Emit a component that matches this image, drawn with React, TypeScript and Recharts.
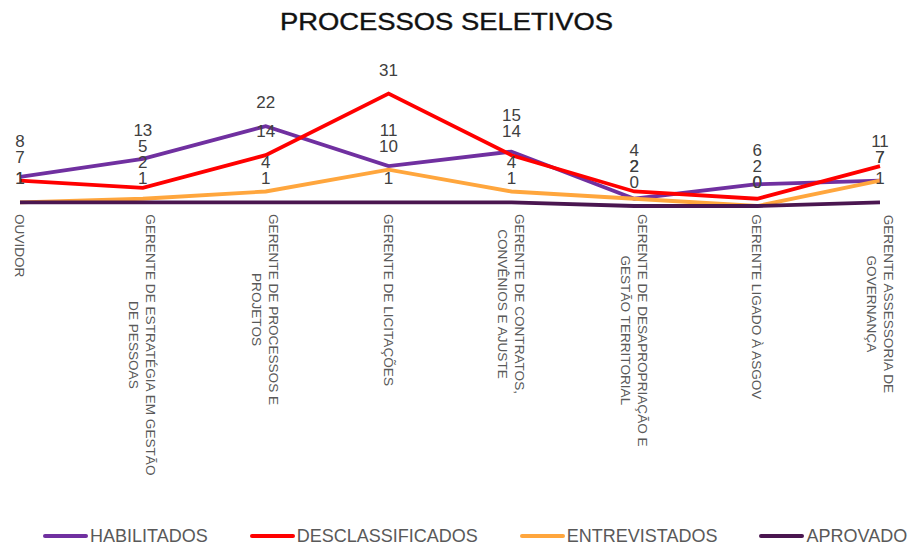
import React from 'react';
import { LineChart, Line, XAxis, YAxis, Legend, LabelList } from 'recharts';

const CATEGORIES = [
    'OUVIDOR',
    'GERENTE DE ESTRATÉGIA EM GESTÃO\nDE PESSOAS',
    'GERENTE DE PROCESSOS E\nPROJETOS',
    'GERENTE DE LICITAÇÕES',
    'GERENTE DE CONTRATOS,\nCONVÊNIOS E AJUSTE',
    'GERENTE DE DESAPROPRIAÇÃO E\nGESTÃO TERRITORIAL',
    'GERENTE LIGADO À ASGOV',
    'GERENTE ASSESSORIA DE\nGOVERNANÇA',
];

const HABILITADOS = [8, 13, 22, 11, 15, 2, 6, 7];
const DESCLASSIFICADOS = [7, 5, 14, 31, 14, 4, 2, 11];
const ENTREVISTADOS = [1, 2, 4, 10, 4, 2, 0, 7];
const APROVADO = [1, 1, 1, 1, 1, 0, 0, 1];

const SERIES = [
    { key: 'HABILITADOS', values: HABILITADOS, color: '#7030A0' },
    { key: 'DESCLASSIFICADOS', values: DESCLASSIFICADOS, color: '#FF0000' },
    { key: 'ENTREVISTADOS', values: ENTREVISTADOS, color: '#FFA63D' },
    { key: 'APROVADO', values: APROVADO, color: '#4A1650' },
];

const data = CATEGORIES.map((name, i) => {
    const row: Record<string, string | number> = { name };
    SERIES.forEach((s) => { row[s.key] = s.values[i]; });
    return row;
});

const FONT = '"Liberation Sans", Arial, sans-serif';
const TICK_SIZE = 13.6;
const LINE_GAP = 17;

// layout
const W = 911;
const H = 548;
const TOP = 79;
const LEGEND_H = 24;
const XAXIS_H = 318;
const Y_MAX = 35;
const PX_PER_UNIT = (H - TOP - LEGEND_H - XAXIS_H) / Y_MAX;
const LABEL_GAP = 18;
const LABEL_STEP = 16;

const ctx = typeof document !== 'undefined' ? document.createElement('canvas').getContext('2d') : null;
const measure = (s: string) => {
    if (!ctx) return s.length * TICK_SIZE * 0.6;
    ctx.font = `${TICK_SIZE}px ${FONT}`;
    return ctx.measureText(s).width;
};

const VerticalTick = (props: any) => {
    const { x, y, payload } = props;
    const lines = String(payload.value).split('\n');
    const maxW = Math.max(...lines.map(measure));
    return (
        <g transform={`translate(${x},${y})`}>
            <text
                transform="rotate(90)"
                textAnchor="middle"
                dominantBaseline="central"
                fontFamily={FONT}
                fontSize={TICK_SIZE}
                fill="#595959"
            >
                {lines.map((l, i) => (
                    <tspan key={i} x={maxW / 2} y={(i - (lines.length - 1) / 2) * LINE_GAP}>{l}</tspan>
                ))}
            </text>
        </g>
    );
};

// push labels of one category upward when they would collide (bottom-up)
const labelLift = (index: number, seriesIdx: number) => {
    const vals = SERIES.map((s, j) => ({ j, v: s.values[index] }));
    vals.sort((a, b) => a.v - b.v || b.j - a.j);
    let prevY = Infinity;
    let prevV = -1;
    const lifted: Record<number, number> = {};
    vals.forEach(({ j, v }) => {
        let y = -v * PX_PER_UNIT - LABEL_GAP;
        if (v === prevV) y = prevY;
        else if (y > prevY - LABEL_STEP) y = prevY - LABEL_STEP;
        lifted[j] = y + v * PX_PER_UNIT; // relative to the point
        prevY = y;
        prevV = v;
    });
    return lifted[seriesIdx];
};

const makeLabel = (seriesIdx: number) => (props: any) => {
    const { viewBox, value, index } = props;
    const px = viewBox?.x ?? props.x;
    const py = viewBox?.y ?? props.y;
    const dy = labelLift(index, seriesIdx);
    return (
        <text x={px} y={py + dy} textAnchor="middle" fontFamily={FONT} fontSize={17} fill="#404040">
            {value}
        </text>
    );
};

const renderLegend = () => (
    <div style={{ display: 'flex', alignItems: 'center', paddingLeft: 43, height: LEGEND_H, fontFamily: FONT, fontSize: 18, color: '#595959' }}>
        {SERIES.map((s) => (
            <div key={s.key} style={{ display: 'flex', alignItems: 'center', marginRight: 42 }}>
                <span style={{ display: 'inline-block', width: 45, height: 4, background: s.color, borderRadius: 2, marginRight: 2 }} />
                {s.key}
            </div>
        ))}
    </div>
);

export default function App() {
    return (
        <div style={{ position: 'absolute', left: 0, top: 0, width: W, height: H, background: '#fff' }}>
            <svg width={W} height={40} style={{ position: 'absolute', left: 0, top: 0 }}>
                <text x={446.5} y={30} textAnchor="middle" fontFamily={FONT} fontSize={24} fill="#111" stroke="#111" strokeWidth={0.4} textLength={333} lengthAdjust="spacingAndGlyphs">
                    PROCESSOS SELETIVOS
                </text>
            </svg>
            <LineChart width={W} height={H} data={data} margin={{ top: TOP, right: 31, left: 20, bottom: 0 }}>
                <XAxis
                    dataKey="name"
                    scale="point"
                    padding={{ left: 0, right: 0 }}
                    axisLine={false}
                    tickLine={false}
                    interval={0}
                    height={XAXIS_H}
                    tick={<VerticalTick />}
                />
                <YAxis hide domain={[0, Y_MAX]} />
                <Legend verticalAlign="bottom" content={renderLegend} wrapperStyle={{ left: 0, width: W, bottom: 0 }} />
                {SERIES.map((s, si) => (
                    <Line
                        key={s.key}
                        dataKey={s.key}
                        stroke={s.color}
                        strokeWidth={3.8}
                        dot={false}
                        activeDot={false}
                        isAnimationActive={false}
                    >
                        <LabelList dataKey={s.key} content={makeLabel(si)} />
                    </Line>
                ))}
            </LineChart>
        </div>
    );
}
